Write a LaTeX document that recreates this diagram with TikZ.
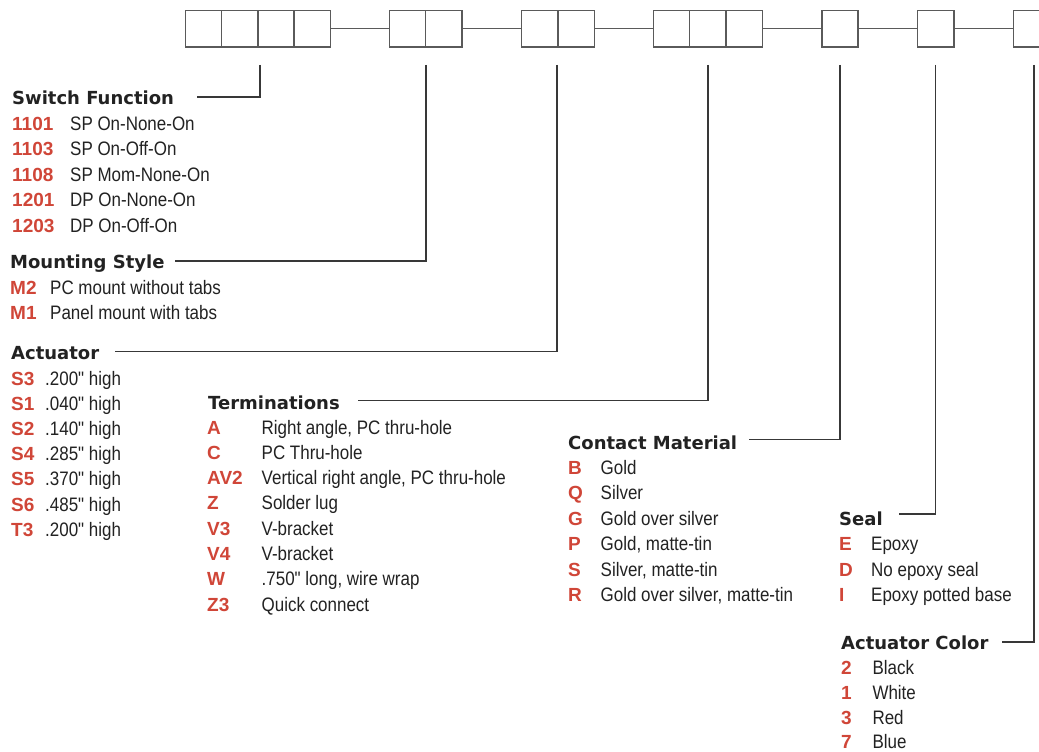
\documentclass[tikz,border=0pt]{standalone}
\usepackage{fontspec}
\newfontfamily\descfont{Liberation Sans}[FakeStretch=0.87]
\newfontfamily\codefont{Liberation Sans}
\newfontfamily\headfont{DejaVu Sans}
\definecolor{codered}{RGB}{208,70,56}
\definecolor{inkdark}{RGB}{34,34,34}
\definecolor{boxgray}{RGB}{90,90,90}
\tikzset{
  cell/.style={draw=boxgray, line width=1.5pt, minimum width=36.4pt, minimum height=36.7pt, inner sep=0pt, outer sep=0pt},
  boxlink/.style={draw=boxgray, line width=1.5pt},
  leader/.style={draw=inkdark!90, line width=1.2pt},
  headtxt/.style={inner sep=0pt, anchor=base west, text=inkdark, font=\headfont\bfseries\fontsize{18}{21}\selectfont},
  optcode/.style={inner sep=0pt, anchor=base west, text=codered, font=\codefont\bfseries\fontsize{19}{22}\selectfont},
  optdesc/.style={inner sep=0pt, anchor=base west, text=inkdark, font=\descfont\fontsize{19.5}{22}\selectfont}
}
\newcommand{\optrow}[6]{%
  \node[optcode] (#1c) at (#2,#4) {#5};
  \node[optdesc] (#1d) at (#3,#4) {#6};}
\begin{document}
\begin{tikzpicture}[x=1pt,y=-1pt]
\useasboundingbox (0,0) rectangle (1039,752);
\clip (0,0) rectangle (1039,752);
\fill[white] (0,0) rectangle (1039,752);
% ---- boxes
\foreach \i/\x in {1/203.5,2/239.7,3/275.9,4/312.1}{\node[cell] (a\i) at (\x,28.7) {};}
\foreach \i/\x in {1/407.5,2/443.9}{\node[cell] (m\i) at (\x,28.7) {};}
\foreach \i/\x in {1/539.8,2/576.1}{\node[cell] (t\i) at (\x,28.7) {};}
\foreach \i/\x in {1/671.5,2/707.8,3/744.1}{\node[cell] (c\i) at (\x,28.7) {};}
\node[cell] (s1) at (840,28.7) {};
\node[cell] (e1) at (935.9,28.7) {};
\node[cell] (k1) at (1031.9,28.7) {};
\draw[boxlink] (a4.east) -- (m1.west);
\draw[boxlink] (m2.east) -- (t1.west);
\draw[boxlink] (t2.east) -- (c1.west);
\draw[boxlink] (c3.east) -- (s1.west);
\draw[boxlink] (s1.east) -- (e1.west);
\draw[boxlink] (e1.east) -- (k1.west);
% ---- headings
\node[headtxt] (hsw) at (12,104.3) {Switch Function};
\node[headtxt] (hmo) at (10,268.5) {Mounting Style};
\node[headtxt] (hac) at (11,359) {Actuator};
\node[headtxt] (hte) at (208,409) {Terminations};
\node[headtxt] (hco) at (568,449) {Contact Material};
\node[headtxt] (hse) at (839,525) {Seal};
\node[headtxt] (hcl) at (841,649) {Actuator Color};
% ---- leader coordinates
\coordinate (p1t) at (260,65);   \coordinate (p1b) at (260,97);   \coordinate (p1e) at (197,97);
\coordinate (p2t) at (426,65);   \coordinate (p2b) at (426,261);  \coordinate (p2e) at (175,261);
\coordinate (p3t) at (557,65);   \coordinate (p3b) at (557,351.5);\coordinate (p3e) at (115,351.5);
\coordinate (p4t) at (708,65);   \coordinate (p4b) at (708,400.5);\coordinate (p4e) at (358,400.5);
\coordinate (p5t) at (840,65);   \coordinate (p5b) at (840,439.5);\coordinate (p5e) at (749,439.5);
\coordinate (p6t) at (935.7,65); \coordinate (p6b) at (935.7,514);\coordinate (p6e) at (899,514);
\coordinate (p7t) at (1034,65);  \coordinate (p7b) at (1034,642); \coordinate (p7e) at (1002,642);
\draw[leader] (p1t) -- (p1b) -- (p1e);
\draw[leader] (p2t) -- (p2b) -- (p2e);
\draw[leader] (p3t) -- (p3b) -- (p3e);
\draw[leader] (p4t) -- (p4b) -- (p4e);
\draw[leader] (p5t) -- (p5b) -- (p5e);
\draw[leader] (p6t) -- (p6b) -- (p6e);
\draw[leader] (p7t) -- (p7b) -- (p7e);
% ---- Switch Function
\optrow{sw1}{12}{70}{130}{1101}{SP On-None-On}
\optrow{sw2}{12}{70}{155.5}{1103}{SP On-Off-On}
\optrow{sw3}{12}{70}{181}{1108}{SP Mom-None-On}
\optrow{sw4}{12}{70}{206.5}{1201}{DP On-None-On}
\optrow{sw5}{12}{70}{232}{1203}{DP On-Off-On}
% ---- Mounting Style
\optrow{mo1}{10}{50}{294}{M2}{PC mount without tabs}
\optrow{mo2}{10}{50}{319.5}{M1}{Panel mount with tabs}
% ---- Actuator
\optrow{ac1}{11}{45}{385}{S3}{.200" high}
\optrow{ac2}{11}{45}{410.2}{S1}{.040" high}
\optrow{ac3}{11}{45}{435.4}{S2}{.140" high}
\optrow{ac4}{11}{45}{460.6}{S4}{.285" high}
\optrow{ac5}{11}{45}{485.8}{S5}{.370" high}
\optrow{ac6}{11}{45}{511}{S6}{.485" high}
\optrow{ac7}{11}{45}{536.2}{T3}{.200" high}
% ---- Terminations
\optrow{te1}{207}{261.5}{434}{A}{Right angle, PC thru-hole}
\optrow{te2}{207}{261.5}{459.3}{C}{PC Thru-hole}
\optrow{te3}{207}{261.5}{484.6}{AV2}{Vertical right angle, PC thru-hole}
\optrow{te4}{207}{261.5}{509.9}{Z}{Solder lug}
\optrow{te5}{207}{261.5}{535.2}{V3}{V-bracket}
\optrow{te6}{207}{261.5}{560.5}{V4}{V-bracket}
\optrow{te7}{207}{261.5}{585.8}{W}{.750" long, wire wrap}
\optrow{te8}{207}{261.5}{611.1}{Z3}{Quick connect}
% ---- Contact Material
\optrow{co1}{568}{600.5}{474}{B}{Gold}
\optrow{co2}{568}{600.5}{499.5}{Q}{Silver}
\optrow{co3}{568}{600.5}{525}{G}{Gold over silver}
\optrow{co4}{568}{600.5}{550.5}{P}{Gold, matte-tin}
\optrow{co5}{568}{600.5}{576}{S}{Silver, matte-tin}
\optrow{co6}{568}{600.5}{601.5}{R}{Gold over silver, matte-tin}
% ---- Seal
\optrow{se1}{839}{871}{550.5}{E}{Epoxy}
\optrow{se2}{839}{871}{576}{D}{No epoxy seal}
\optrow{se3}{839}{871}{601.5}{I}{Epoxy potted base}
% ---- Actuator Color
\optrow{cl1}{841}{872.3}{674.5}{2}{Black}
\optrow{cl2}{841}{872.3}{699.3}{1}{White}
\optrow{cl3}{841}{872.3}{724.1}{3}{Red}
\optrow{cl4}{841}{872.3}{748.9}{7}{Blue}
\end{tikzpicture}
\end{document}
